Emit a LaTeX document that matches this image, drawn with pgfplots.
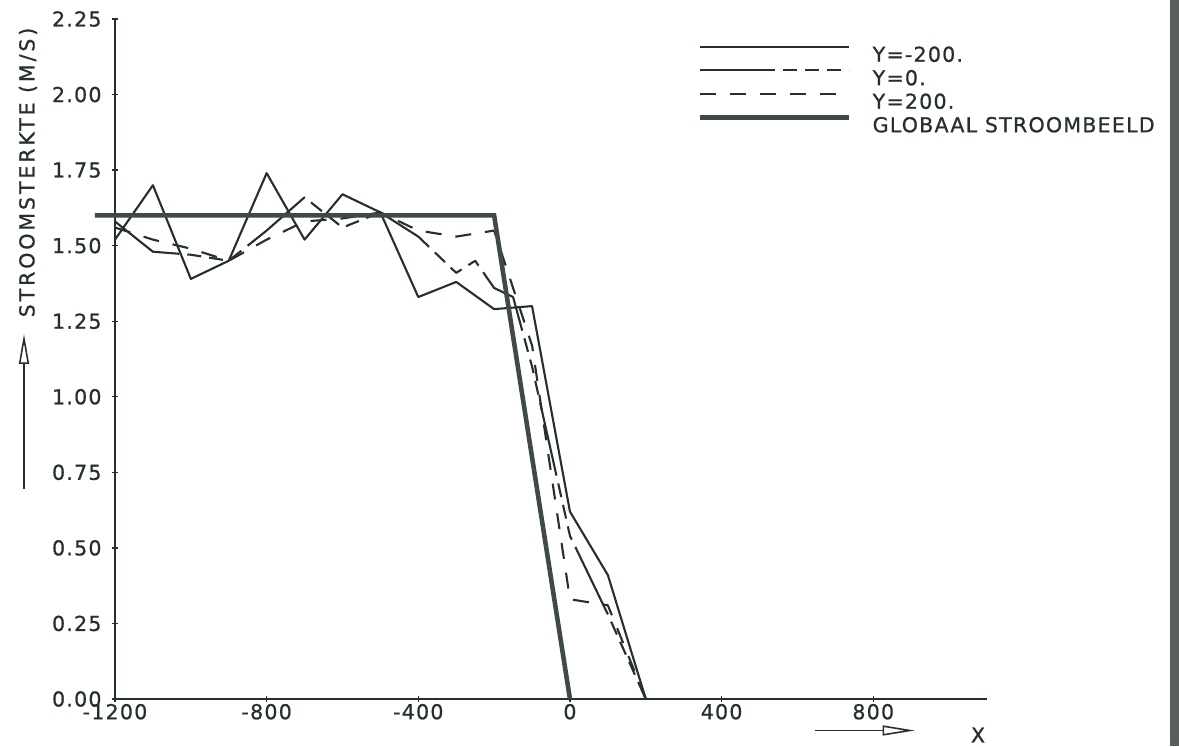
\documentclass[border=0pt]{standalone}
\usepackage{pgfplots}
\pgfplotsset{compat=1.18}
\usepackage{fontspec}
\setmainfont{DejaVu Sans}[LetterSpace=6, FakeBold=0.8]
\usetikzlibrary{arrows.meta}

\definecolor{ink}{RGB}{38,48,42}
\definecolor{heavy}{RGB}{62,74,66}
\definecolor{scan}{RGB}{88,96,91}

\begin{document}
\begin{tikzpicture}
\useasboundingbox (-23mm,-9.4mm) rectangle (212.8mm,139.8mm);
\fontsize{11.7}{13}\selectfont
\begin{axis}[
    at={(0,0)}, anchor=south west,
    scale only axis,
    width=174.4mm, height=136mm,
    xmin=-1200, xmax=1100,
    ymin=0, ymax=2.25,
    axis lines=left,
    axis line style={-, line width=0.9pt, ink},
    xtick={-1200,-800,-400,0,400,800},
    xticklabels={-1200,-800,-400,0,400,800},
    ytick={0,0.25,0.5,0.75,1,1.25,1.5,1.75,2,2.25},
    yticklabels={0.00,0.25,0.50,0.75,1.00,1.25,1.50,1.75,2.00,2.25},
    tick align=center,
    major tick length=1.3mm,
    tick style={line width=0.8pt, ink},
    tick label style={text=ink},
    yticklabel style={xshift=-0.6mm},
    xticklabel style={yshift=1.1mm},
    clip=false,
    legend cell align=left,
    legend style={at={(axis cs:338,2.183)}, anchor=north west,
        draw=none, fill=none, inner sep=0pt, outer sep=0pt,
        row sep=0.2mm, column sep=4.2mm,
        nodes={inner sep=0pt, text height=3mm, text depth=0pt, text=ink}},
    legend image code/.code={
        \path[draw=none, fill=none] (0mm,0mm) rectangle (29.8mm,3mm);
        \draw[#1] (0mm,1.5mm) -- (29.8mm,1.5mm);},
]
% Y=-200
\addplot[ink, line width=1.2pt, line join=round] coordinates {
    (-1200,1.52) (-1100,1.70) (-1000,1.39) (-900,1.45) (-800,1.74)
    (-700,1.52) (-600,1.67) (-500,1.61) (-400,1.33) (-300,1.38)
    (-200,1.29) (-100,1.30) (0,0.62) (100,0.41) (200,0)
};
\addlegendentry{Y=-200.}
% Y=0
\addplot[ink, line width=1.2pt, line join=round,
    dash pattern=on 15mm off 1.6mm on 2.8mm off 1.6mm on 2.8mm off 1.6mm on 2.8mm off 1.6mm] coordinates {
    (-1200,1.58) (-1100,1.48) (-1000,1.47) (-900,1.45) (-800,1.55)
    (-700,1.66) (-600,1.56) (-500,1.61) (-400,1.53) (-300,1.41)
    (-250,1.45) (-200,1.36) (-150,1.33) (-100,1.10) (0,0.54)
    (100,0.28) (200,0)
};
\addlegendentry{Y=0.}
% Y=200
\addplot[ink, line width=1.2pt, line join=round,
    dash pattern=on 3.2mm off 2.8mm] coordinates {
    (-1200,1.56) (-1100,1.52) (-1000,1.49) (-900,1.45) (-800,1.52)
    (-700,1.58) (-600,1.59) (-500,1.61) (-400,1.55) (-300,1.53)
    (-200,1.55) (-100,1.17) (0,0.33) (100,0.31) (200,0)
};
\addlegendentry{Y=200.}
% global pattern
\addplot[heavy, line width=2.6pt, line join=miter] coordinates {
    (-1253,1.60) (-200,1.60) (0,0)
};
\addlegendentry{GLOBAAL STROOMBEELD}
\end{axis}
% axis captions with arrows
\node[rotate=90, inner sep=0pt, text=ink] at (-17.4mm,105.3mm)
    {\addfontfeatures{LetterSpace=14}STROOMSTERKTE (M/S)};
\draw[ink, line width=0.9pt, -{Triangle[open, length=6mm, width=2mm, line width=0.9pt]}]
    (-18.2mm,42mm) -- (-18.2mm,73mm);
\draw[ink, line width=0.9pt, -{Triangle[open, length=6.5mm, width=2mm, line width=0.9pt]}]
    (140mm,-6.3mm) -- (160mm,-6.3mm);
\node[inner sep=0pt, text=ink] at (172.6mm,-7.2mm) {X};
% scanner edge
\fill[scan] (211mm,-9.4mm) rectangle (212.8mm,139.8mm);
\end{tikzpicture}
\end{document}
